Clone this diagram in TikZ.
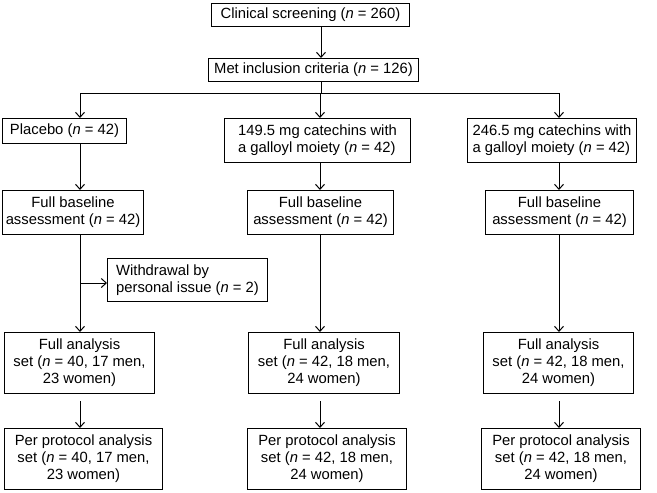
\documentclass[tikz,border=0pt]{standalone}
\usepackage{fontspec}
\setmainfont{Liberation Sans}
\usetikzlibrary{arrows.meta}
\begin{document}
\begin{tikzpicture}[x=1pt,y=-1pt,
  box/.style={draw, line width=1pt, inner sep=0pt, anchor=north west,
    font=\fontsize{14.8}{17}\selectfont, align=center},
  arr/.style={line width=1pt, -{Straight Barb[length=5pt,width=9pt]}},
  ln/.style={line width=1pt}]
\useasboundingbox (0,0) rectangle (657,493);
\node[box, minimum width=198pt, minimum height=23pt] (A) at (211,3) {Clinical screening (\textit{n} = 260)};
\node[box, minimum width=210pt, minimum height=23pt] (B) at (208,58) {Met inclusion criteria (\textit{n} = 126)};
\node[box, minimum width=124pt, minimum height=25pt] (P1) at (2,118) {Placebo (\textit{n} = 42)};
\node[box, minimum width=186pt, minimum height=44pt, align=left] (P2) at (224,118) {149.5 mg catechins with\\a galloyl moiety (\textit{n} = 42)};
\node[box, minimum width=169pt, minimum height=44pt, align=left] (P3) at (467,118) {246.5 mg catechins with\\a galloyl moiety (\textit{n} = 42)};
\node[box, minimum width=141pt, minimum height=44pt] (F1) at (2,190) {Full baseline\\assessment (\textit{n} = 42)};
\node[box, minimum width=146pt, minimum height=44pt] (F2) at (247,190) {Full baseline\\assessment (\textit{n} = 42)};
\node[box, minimum width=148pt, minimum height=44pt] (F3) at (485,190) {Full baseline\\assessment (\textit{n} = 42)};
\node[box, minimum width=160pt, minimum height=43pt, align=left] (W) at (107,258) {Withdrawal by\\personal issue (\textit{n} = 2)};
\node[box, minimum width=150pt, minimum height=61pt] (G1) at (4,332) {Full analysis\\set (\textit{n} = 40, 17 men,\\23 women)};
\node[box, minimum width=151pt, minimum height=61pt] (G2) at (248,332) {Full analysis\\set (\textit{n} = 42, 18 men,\\24 women)};
\node[box, minimum width=150pt, minimum height=61pt] (G3) at (483,332) {Full analysis\\set (\textit{n} = 42, 18 men,\\24 women)};
\node[box, minimum width=158pt, minimum height=61pt] (H1) at (4,428) {Per protocol analysis\\set (\textit{n} = 40, 17 men,\\23 women)};
\node[box, minimum width=159pt, minimum height=61pt] (H2) at (247,428) {Per protocol analysis\\set (\textit{n} = 42, 18 men,\\24 women)};
\node[box, minimum width=159pt, minimum height=61pt] (H3) at (481,428) {Per protocol analysis\\set (\textit{n} = 42, 18 men,\\24 women)};
\coordinate (cm) at (321,0);
\coordinate (c1) at (80,0);
\coordinate (c2) at (320,0);
\coordinate (c3) at (559,0);
\coordinate (bus) at (0,93);
\coordinate (wb) at (0,283);
\draw[arr] (A.south -| cm) -- (B.north -| cm);
\draw[ln] (B.south -| cm) -- (bus -| cm);
\draw[ln] (bus -| c1) -- (bus -| c3);
\draw[arr] (bus -| c1) -- (P1.north -| c1);
\draw[arr] (bus -| c2) -- (P2.north -| c2);
\draw[arr] (bus -| c3) -- (P3.north -| c3);
\draw[arr] (P1.south -| c1) -- (F1.north -| c1);
\draw[arr] (P2.south -| c2) -- (F2.north -| c2);
\draw[arr] (P3.south -| c3) -- (F3.north -| c3);
\draw[arr] (F1.south -| c1) -- (G1.north -| c1);
\draw[arr] (F2.south -| c2) -- (G2.north -| c2);
\draw[arr] (F3.south -| c3) -- (G3.north -| c3);
\draw[arr] (wb -| c1) -- (wb -| W.west);
\draw[arr, shorten <=7pt] (G1.south -| c1) -- (H1.north -| c1);
\draw[arr, shorten <=7pt] (G2.south -| c2) -- (H2.north -| c2);
\draw[arr, shorten <=7pt] (G3.south -| c3) -- (H3.north -| c3);
\end{tikzpicture}
\end{document}
